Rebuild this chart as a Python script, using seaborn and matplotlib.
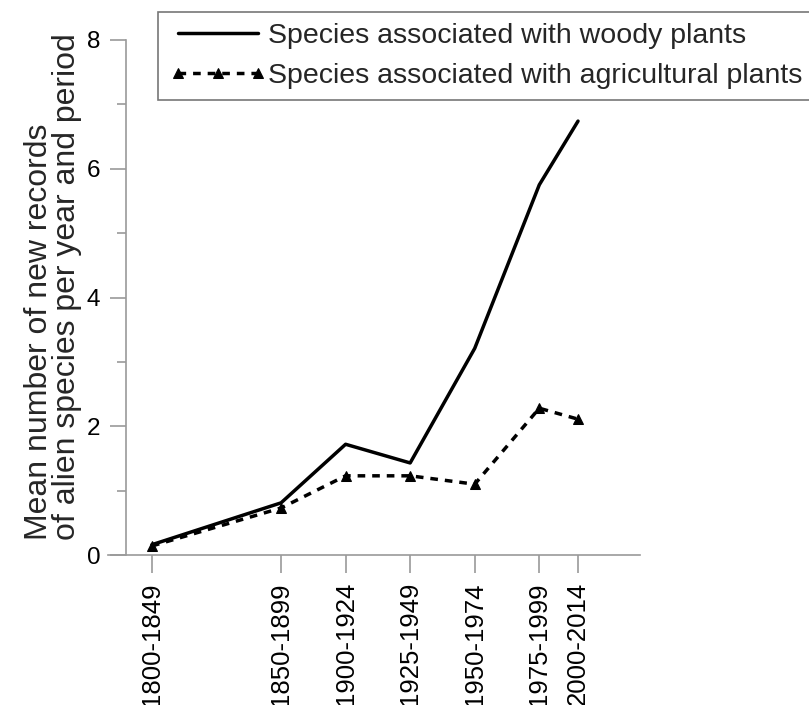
import numpy as np
import pandas as pd
import matplotlib
matplotlib.use("Agg")
import matplotlib.pyplot as plt
import seaborn as sns

# values
periods = ["1800-1849", "1850-1899", "1900-1924", "1925-1949",
           "1950-1974", "1975-1999", "2000-2014"]
period_end = [1849, 1899, 1924, 1949, 1974, 1999, 2014]
woody = [0.16, 0.81, 1.72, 1.43, 3.21, 5.75, 6.74]
agricultural = [0.14, 0.73, 1.23, 1.23, 1.10, 2.28, 2.11]

df = pd.DataFrame({"year": period_end, "woody": woody, "agri": agricultural})

sns.set_style("white")
plt.rcParams["font.family"] = ["Liberation Sans", "DejaVu Sans"]

axis_grey = "#9a9a9a"

fig = plt.figure(figsize=(8.09, 7.05), dpi=100)
ax = fig.add_axes([108 / 809, 1 - 555 / 705, 532 / 809, 515 / 705])

sns.lineplot(data=df, x="year", y="woody", ax=ax, color="black", linewidth=2.5,
             label="Species associated with woody plants")
sns.lineplot(data=df, x="year", y="agri", ax=ax, color="black", linewidth=2.5,
             linestyle=(0, (2.2, 2.0)), marker="^", markersize=6.5,
             markeredgecolor="black", markerfacecolor="black",
             label="Species associated with agricultural plants")

ax.set_xlim(1832, 2038)
ax.set_ylim(0, 8)

# spines
for side in ["top", "right"]:
    ax.spines[side].set_visible(False)
ax.spines["left"].set_position(("data", 1839))
for side in ["left", "bottom"]:
    ax.spines[side].set_color(axis_grey)
    ax.spines[side].set_linewidth(1.2)

ax.set_xticks(period_end)
ax.set_xticklabels(periods, rotation=90, fontsize=18.5)
ax.set_yticks([0, 2, 4, 6, 8])
ax.set_yticklabels(["0", "2", "4", "6", "8"], fontsize=17.5)
ax.set_yticks([1, 3, 5, 7], minor=True)

ax.tick_params(axis="x", direction="out", length=13, width=1.2, color=axis_grey,
               pad=6.5, labelcolor="black", bottom=True)
ax.tick_params(axis="y", which="major", direction="out", length=11.5, width=1.2,
               color=axis_grey, pad=7, labelcolor="black", left=True)
ax.tick_params(axis="y", which="minor", direction="out", length=6.5, width=1.2,
               color=axis_grey, left=True)

ax.set_xlabel("")
ax.set_ylabel("")
fig.text(53 / 809, 1 - 540 / 705,
         "Mean number of new records\nof alien species per year and period",
         rotation=90, ha="center", va="bottom", multialignment="left",
         fontsize=23, linespacing=0.9)

leg = ax.legend(loc="upper left", bbox_to_anchor=(158 / 809, 1 - 12 / 705),
                bbox_transform=fig.transFigure, fontsize=20.5, numpoints=3,
                handlelength=3.4, handletextpad=0.08, labelspacing=0.48,
                borderpad=0.4, borderaxespad=0, fancybox=False, frameon=True)
leg.get_frame().set_edgecolor("#555555")
leg.get_frame().set_linewidth(1.2)

fig.savefig("out.png", dpi=100)
